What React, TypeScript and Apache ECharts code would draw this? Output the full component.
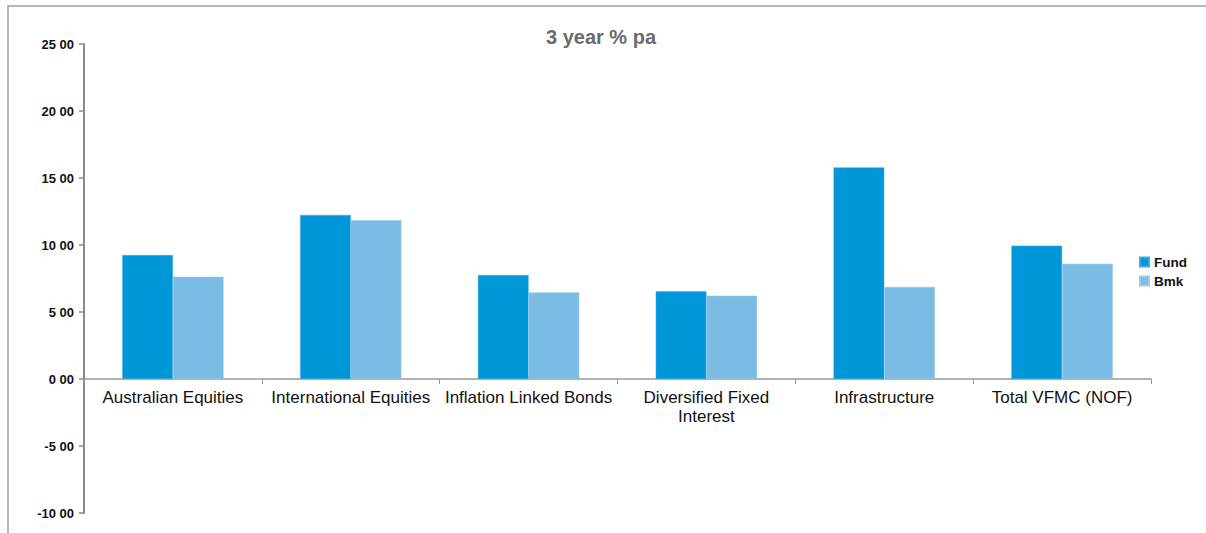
import React, { useEffect, useRef } from "react";
import * as echarts from "echarts";

const categories = [
  "Australian Equities",
  "International Equities",
  "Inflation Linked Bonds",
  "Diversified Fixed\nInterest",
  "Infrastructure",
  "Total VFMC (NOF)",
];
const fundValues = [9.25, 12.24, 7.76, 6.54, 15.79, 9.95];
const bmkValues = [7.63, 11.84, 6.46, 6.22, 6.87, 8.6];
const seriesNames = ["Fund", "Bmk"];
const titleText = "3 year % pa";
const yMin = -10;
const yMax = 25;
const yInterval = 5;

export default function App() {
  const ref = useRef<HTMLDivElement>(null);
  useEffect(() => {
    if (!ref.current) return;
    const chart = echarts.init(ref.current, null, { renderer: "svg" });
    const font = "'Liberation Sans', Arial, sans-serif";
    const gridTop = 44;
    const gridBottom = 20;
    const plotH = 533 - gridTop - gridBottom;
    const zeroOffset = -(plotH * (0 - yMin)) / (yMax - yMin);
    chart.setOption({
      animation: false,
      backgroundColor: "#ffffff",
      textStyle: { fontFamily: font },
      title: {
        text: titleText,
        left: 596,
        textAlign: "center",
        top: 22,
        textStyle: { fontSize: 20, fontWeight: "bold", color: "#6b6b6b", fontFamily: font },
      },
      graphic: [
        {
          type: "rect",
          shape: { x: 8, y: 6, width: 1300, height: 700 },
          style: { fill: "none", stroke: "#a0a0a0", lineWidth: 1.5 },
          silent: true,
          z: -1,
        },
      ],
      legend: {
        orient: "vertical",
        left: 1134,
        top: 250,
        itemWidth: 9,
        itemHeight: 9,
        itemGap: 5,
        icon: "rect",
        textStyle: { fontSize: 13.5, fontWeight: "bold", color: "#111", fontFamily: font },
        data: seriesNames,
      },
      grid: {
        left: 84,
        right: 55,
        top: gridTop,
        bottom: gridBottom,
        containLabel: false,
        outerBoundsMode: "none",
      },
      xAxis: {
        type: "category",
        data: categories,
        position: "bottom",
        offset: zeroOffset,
        axisLine: { onZero: false, lineStyle: { color: "#999999", width: 1.5 } },
        axisTick: { show: true, length: 5, lineStyle: { color: "#999999" } },
        axisLabel: {
          interval: 0,
          fontSize: 17,
          color: "#111111",
          margin: 9,
          lineHeight: 19,
          fontFamily: font,
        },
      },
      yAxis: {
        type: "value",
        min: yMin,
        max: yMax,
        interval: yInterval,
        splitLine: { show: false },
        axisLine: { show: true, lineStyle: { color: "#8a8a8a", width: 2 } },
        axisTick: { show: true, length: 5, lineStyle: { color: "#8a8a8a", width: 1.5 } },
        axisLabel: {
          fontSize: 13,
          fontWeight: "bold",
          color: "#111111",
          margin: 10,
          fontFamily: font,
          formatter: (v: number) => v.toFixed(2).replace(".", " "),
        },
      },
      series: [
        {
          name: seriesNames[0],
          type: "bar",
          data: fundValues,
          barGap: "0%",
          barCategoryGap: "43%",
          itemStyle: { color: "#0097D9", borderColor: "#3aaee0", borderWidth: 0.5 },
        },
        {
          name: seriesNames[1],
          type: "bar",
          data: bmkValues,
          barGap: "0%",
          barCategoryGap: "43%",
          itemStyle: { color: "#7BBCE5", borderColor: "#9ccbeb", borderWidth: 0.5 },
        },
      ],
    });
    return () => chart.dispose();
  }, []);
  return (
    <div
      ref={ref}
      style={{ position: "absolute", left: 0, top: 0, width: 1206, height: 533 }}
    />
  );
}
